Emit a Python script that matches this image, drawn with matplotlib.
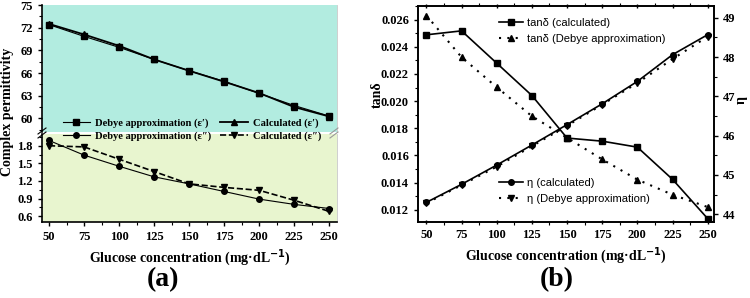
import matplotlib.pyplot as plt
from matplotlib.ticker import MultipleLocator

plt.rcParams['font.family'] = ['Liberation Serif', 'DejaVu Serif']
plt.rcParams['font.weight'] = 'bold'
plt.rcParams['axes.labelweight'] = 'bold'
plt.rcParams['mathtext.default'] = 'bf'

conc = [50, 75, 100, 125, 150, 175, 200, 225, 250]

# (a) complex permittivity
eps_r_debye = [72.4, 70.85, 69.4, 67.8, 66.3, 64.9, 63.3, 61.7, 60.3]
eps_r_calc = [72.5, 71.1, 69.6, 67.8, 66.3, 64.85, 63.35, 61.5, 60.25]
eps_i_debye = [1.89, 1.64, 1.45, 1.27, 1.15, 1.02, 0.89, 0.80, 0.73]
eps_i_calc = [1.80, 1.78, 1.57, 1.36, 1.15, 1.09, 1.04, 0.87, 0.68]

# (b) loss tangent and eta
tan_calc = [0.02488, 0.02517, 0.02279, 0.02041, 0.01728, 0.01705, 0.01661, 0.01424, 0.01135]
tan_debye = [0.0263, 0.02323, 0.02102, 0.01889, 0.0173, 0.01571, 0.01422, 0.01311, 0.0122]
eta_calc = [44.30, 44.76, 45.25, 45.76, 46.28, 46.81, 47.38, 48.06, 48.57]
eta_debye = [44.28, 44.74, 45.21, 45.73, 46.25, 46.79, 47.34, 47.95, 48.52]

fig = plt.figure(figsize=(7.5, 2.98), dpi=100)

W, H = 750.0, 298.0
def box(x0, y0, x1, y1):
    return [x0 / W, 1 - y1 / H, (x1 - x0) / W, (y1 - y0) / H]

top_col = '#b2ece0'
bot_col = '#e8f5cf'

ax_t = fig.add_axes(box(42, 5, 337, 132))
ax_b = fig.add_axes(box(42, 134, 337, 222))
ax_t.set_facecolor(top_col)
ax_b.set_facecolor(bot_col)

l1, = ax_t.plot(conc, eps_r_debye, color='black', marker='s', markersize=4, linewidth=0.8)
l2, = ax_t.plot(conc, eps_r_calc, color='black', marker='^', markersize=4, linewidth=1.3)
l3, = ax_b.plot(conc, eps_i_debye, color='black', marker='o', markersize=4, linewidth=0.8)
l4, = ax_b.plot(conc, eps_i_calc, color='black', marker='v', markersize=4, linewidth=1.2, linestyle='--')

for ax in (ax_t, ax_b):
    ax.set_xlim(45, 255.5)
    ax.spines['top'].set_visible(False)
    ax.spines['right'].set_color('#c8c8c8')
    ax.spines['right'].set_linewidth(0.6)
    ax.tick_params(axis='both', labelsize=9, direction='out', length=3, width=1)
    ax.tick_params(which='minor', direction='out', length=2, width=0.8)
    ax.yaxis.set_minor_locator(MultipleLocator(0.15 if ax is ax_b else 1.5))
    ax.spines['left'].set_linewidth(1.2)

ax_t.set_ylim(58.2, 75)
ax_t.set_yticks([60, 63, 66, 69, 72, 75])
ax_t.spines['bottom'].set_visible(False)
ax_t.tick_params(axis='x', bottom=False, labelbottom=False)
ax_t.xaxis.set_tick_params(which='minor', bottom=False)

ax_b.set_ylim(0.5, 2.0)
ax_b.set_yticks([0.6, 0.9, 1.2, 1.5, 1.8])
ax_b.set_xticks(conc)
ax_b.xaxis.set_minor_locator(MultipleLocator(12.5))
ax_b.spines['bottom'].set_linewidth(1.2)

# break marks
for xb in (42, 334):
    for dy in (-2, 2):
        fig.add_artist(plt.Line2D([(xb - 4) / W, (xb + 4) / W],
                                  [1 - (133 + dy + 3) / H, 1 - (133 + dy - 3) / H],
                                  color='black' if xb == 42 else '#999999', linewidth=0.8))

# legend is filled column-wise, so order handles to read row by row
fig.legend([l1, l3, l2, l4],
           ['Debye approximation (ε′)', 'Debye approximation (ε″)',
            'Calculated (ε′)', 'Calculated (ε″)'],
           ncol=2, loc='center', bbox_to_anchor=(192 / W, 1 - 130 / H),
           frameon=False, fontsize=7.6, handlelength=2.6, columnspacing=0.8,
           labelspacing=0.3, handletextpad=0.5)

ax_b.set_xlabel('Glucose concentration (mg·dL$^{-1}$)', fontsize=10, labelpad=3)
fig.text(8 / W, 1 - 112 / H, 'Complex permittivity', rotation=90, fontsize=10,
         ha='center', va='center')
fig.text(163 / W, 1 - 280 / H, '(a)', fontsize=20, ha='center', va='center')

# (b)
ax2 = fig.add_axes(box(418, 6, 714, 222))
ax3 = ax2.twinx()
p1, = ax2.plot(conc, tan_calc, color='black', marker='s', markersize=4, linewidth=1.2)
p2, = ax2.plot(conc, tan_debye, color='black', marker='^', markersize=4, linewidth=1.5,
               linestyle=(0, (1, 3)))
p3, = ax3.plot(conc, eta_calc, color='black', marker='o', markersize=4, linewidth=1.2)
p4, = ax3.plot(conc, eta_debye, color='black', marker='v', markersize=4, linewidth=1.5,
               linestyle=(0, (1, 3)))

ax2.set_xlim(44, 254.5)
ax2.set_ylim(0.0111, 0.027)
ax2.set_yticks([0.012, 0.014, 0.016, 0.018, 0.020, 0.022, 0.024, 0.026])
ax2.yaxis.set_major_formatter(plt.FormatStrFormatter('%.3f'))
ax2.yaxis.set_minor_locator(MultipleLocator(0.001))
ax2.set_xticks(conc)
ax2.xaxis.set_minor_locator(MultipleLocator(12.5))
ax3.set_ylim(43.8, 49.3)
ax3.set_yticks([44, 45, 46, 47, 48, 49])
ax3.yaxis.set_minor_locator(MultipleLocator(0.5))
ax2.tick_params(axis='both', labelsize=9, direction='out', length=3, width=1)
ax2.tick_params(which='minor', direction='out', length=2, width=0.8)
ax2.tick_params(axis='x', which='both', top=True)
ax2.tick_params(axis='x', which='major', top=True, direction='inout')
ax3.tick_params(axis='y', labelsize=9, direction='out', length=3, width=1)
ax3.tick_params(which='minor', direction='out', length=2, width=0.8)
for sp in ax2.spines.values():
    sp.set_linewidth(1.2)
for sp in ax3.spines.values():
    sp.set_linewidth(1.2)

ax2.set_xlabel('Glucose concentration (mg·dL$^{-1}$)', fontsize=10, labelpad=3)
fig.text(377 / W, 1 - 95 / H, 'tanδ', rotation=90, fontsize=10, ha='center', va='center')
fig.text(741 / W, 1 - 100 / H, 'η', rotation=90, fontsize=10, ha='center', va='center')
fig.text(557 / W, 1 - 280 / H, '(b)', fontsize=20, ha='center', va='center')

leg_font = {'family': ['Liberation Sans', 'DejaVu Sans'], 'weight': 'normal', 'size': 8}
ax2.legend([p1, p2], ['tanδ (calculated)', 'tanδ (Debye approximation)'],
           loc='upper left', bbox_to_anchor=(0.24, 0.99), frameon=False, prop=leg_font,
           handlelength=2.2, labelspacing=0.5, handletextpad=0.3)
ax3.legend([p3, p4], ['η (calculated)', 'η (Debye approximation)'],
           loc='upper left', bbox_to_anchor=(0.24, 0.25), frameon=False, prop=leg_font,
           handlelength=2.2, labelspacing=0.5, handletextpad=0.3)

fig.savefig('out.png', dpi=100)
